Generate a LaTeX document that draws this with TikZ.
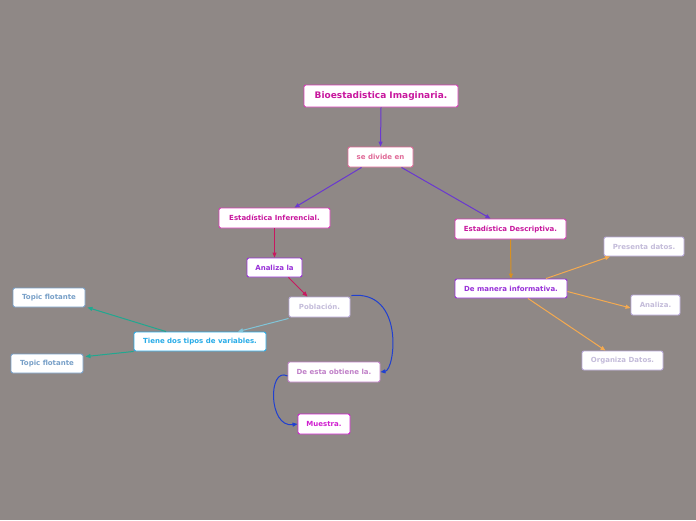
\documentclass[tikz,border=0pt]{standalone}
\usepackage{fontspec}
\setmainfont{DejaVu Sans}
\usetikzlibrary{arrows.meta}
\definecolor{bg}{HTML}{8F8886}
\definecolor{cMag}{HTML}{C8189E}
\definecolor{bMag}{HTML}{D83CB8}
\definecolor{cPink}{HTML}{E06A98}
\definecolor{cPurp}{HTML}{9830D8}
\definecolor{cLav}{HTML}{C4BCDA}
\definecolor{bLav}{HTML}{B8A8D8}
\definecolor{cBlue}{HTML}{28ACE8}
\definecolor{cTopic}{HTML}{78A0C8}
\definecolor{cDesta}{HTML}{C080C8}
\definecolor{cMuest}{HTML}{D020D0}
\definecolor{ePurp}{HTML}{6A38D0}
\definecolor{eCrim}{HTML}{C81860}
\definecolor{eLBlue}{HTML}{80C4D8}
\definecolor{eTeal}{HTML}{20A890}
\definecolor{eBlue}{HTML}{2040D0}
\definecolor{eOrg}{HTML}{D89020}
\definecolor{eLOrg}{HTML}{F4AA50}
\tikzset{
  box/.style={draw=#1, fill=white, rounded corners=2pt, line width=0.9pt, inner sep=0pt, minimum height=19pt, font=\fontsize{7}{8}\selectfont\bfseries},
  conn/.style={draw=#1, line width=1pt, -{Triangle[length=5pt,width=4pt]}},
}
\begin{document}
\begin{tikzpicture}[x=1pt,y=-1pt]
\fill[bg] (0,0) rectangle (696,520);
\useasboundingbox (0,0) rectangle (696,520);
\node[box=bMag, text=cMag, minimum width=154pt, minimum height=22pt, font=\fontsize{9}{10}\selectfont\bfseries] (bio) at (381,96) {Bioestadistica Imaginaria.};
\node[box=cPink, text=cPink, minimum width=65pt, minimum height=20pt] (sed) at (380.5,157) {se divide en};
\node[box=bMag, text=cMag, minimum width=111pt, minimum height=20pt] (inf) at (274.5,218) {Estadística Inferencial.};
\node[box=bMag, text=cMag, minimum width=111pt, minimum height=20pt] (des) at (510.5,229) {Estadística Descriptiva.};
\node[box=cPurp, text=cPurp, minimum width=55pt] (ana) at (274.5,267.5) {Analiza la};
\node[box=bLav, text=cLav, minimum width=61pt, minimum height=20pt] (pob) at (319.5,307) {Población.};
\node[box=cBlue, text=cBlue, minimum width=132pt] (tie) at (200,341.5) {Tiene dos tipos de variables.};
\node[box=cTopic, text=cTopic, minimum width=72pt] (top1) at (49,297.5) {Topic flotante};
\node[box=cTopic, text=cTopic, minimum width=72pt] (top2) at (47,363.5) {Topic flotante};
\node[box=cDesta, text=cDesta, minimum width=92pt, minimum height=20pt] (dee) at (334,372) {De esta obtiene la.};
\node[box=cMuest, text=cMuest, minimum width=52pt, minimum height=20pt] (mue) at (324,424) {Muestra.};
\node[box=cPurp, text=cPurp, minimum width=112pt] (man) at (511,288.5) {De manera informativa.};
\node[box=bLav, text=cLav, minimum width=80pt] (pre) at (644,246.5) {Presenta datos.};
\node[box=bLav, text=cLav, minimum width=49pt, minimum height=20pt] (anz) at (655.5,305) {Analiza.};
\node[box=bLav, text=cLav, minimum width=81pt] (org) at (622.5,360.5) {Organiza Datos.};
% connectors
\draw[conn=ePurp] (bio.south) -- (sed.north);
\draw[conn=ePurp] ([xshift=-19pt]sed.south) -- ([xshift=20pt]inf.north);
\draw[conn=ePurp] ([xshift=21pt]sed.south) -- ([xshift=-20pt]des.north);
\draw[conn=eCrim] (inf.south) -- (ana.north);
\draw[conn=eCrim] ([xshift=14pt]ana.south) -- ([xshift=-12pt]pob.north);
\draw[conn=eLBlue] ([yshift=-1pt]pob.south west) -- ([xshift=38pt]tie.north);
\draw[conn=eTeal] ([xshift=-34pt]tie.north) -- ([xshift=2pt]top1.south east);
\draw[conn=eTeal] (tie.south west) -- ([xshift=2pt,yshift=-3pt]top2.north east);
\draw[conn=eBlue] ([xshift=1pt,yshift=1pt]pob.north east) .. controls (405,290) and (395,370) .. (dee.east);
\draw[conn=eBlue] ([yshift=-4pt]dee.west) .. controls (268,366) and (268,428) .. (mue.west);
\draw[conn=eOrg] (des.south) -- (man.north);
\draw[conn=eLOrg] ([xshift=35pt]man.north) -- ([xshift=-34pt]pre.south);
\draw[conn=eLOrg] ([yshift=-3pt]man.east) -- ([yshift=-3pt]anz.west);
\draw[conn=eLOrg] ([xshift=17pt]man.south) -- ([xshift=-17pt]org.north);
\end{tikzpicture}
\end{document}
